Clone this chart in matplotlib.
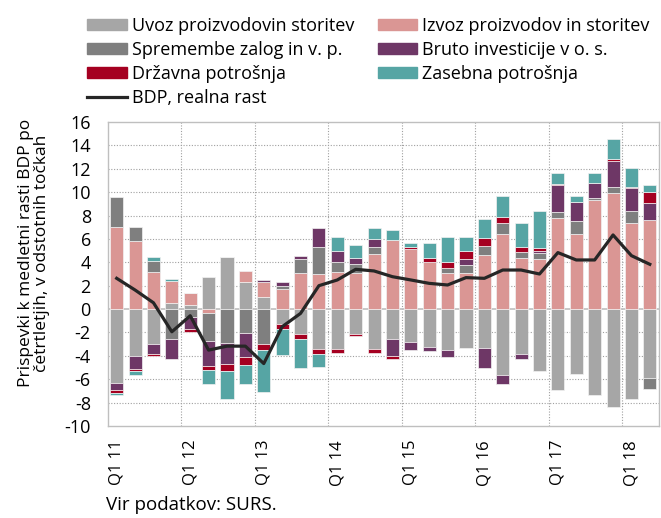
import numpy as np
import matplotlib
matplotlib.use("Agg")
import matplotlib.pyplot as plt
from matplotlib.lines import Line2D
from matplotlib.patches import Patch

plt.rcParams['font.family'] = ["Open Sans", "DejaVu Sans"]

quarters = ["Q1 11", "Q2 11", "Q3 11", "Q4 11", "Q1 12", "Q2 12", "Q3 12", "Q4 12",
            "Q1 13", "Q2 13", "Q3 13", "Q4 13", "Q1 14", "Q2 14", "Q3 14", "Q4 14",
            "Q1 15", "Q2 15", "Q3 15", "Q4 15", "Q1 16", "Q2 16", "Q3 16", "Q4 16",
            "Q1 17", "Q2 17", "Q3 17", "Q4 17", "Q1 18", "Q2 18"]

uvoz = [-6.31, -4.0, -3.0, 0.49, 0.37, 2.77, 4.49, 2.29,
        1.06, -1.31, -2.09, -3.43, -3.43, -2.09, -3.43, -2.6,
        -2.8, -3.23, -3.51, -3.37, -3.31, -5.66, -3.86, -5.31,
        -6.94, -5.51, -7.31, -8.37, -7.69, -5.89]
izvoz = [7.0, 5.83, 3.2, 1.89, 1.0, -0.31, 0.0, 1.0,
         1.26, 1.71, 3.09, 3.0, 3.2, 3.11, 4.71, 5.91,
         5.11, 4.0, 3.09, 3.09, 4.63, 6.4, 4.4, 4.29,
         7.83, 6.4, 9.34, 9.91, 7.34, 7.63]
zaloge = [2.57, 1.23, 0.94, -2.6, -0.71, -2.4, -2.94, -2.03,
          -3.0, 0.29, 1.2, 2.29, 0.86, 0.74, 0.57, 0.0,
          0.0, 0.0, 0.4, 0.69, 0.77, 0.94, 0.46, 0.54,
          0.46, 1.14, 0.17, 0.49, 1.06, -0.91]
investicije = [-0.63, -1.09, -0.8, -1.63, -1.0, -2.17, -1.77, -2.06,
               0.14, 0.34, 0.29, 1.63, 0.91, 0.54, 0.71, -1.4,
               -0.71, -0.34, -0.57, 0.51, -1.69, -0.71, -0.37, 0.17,
               2.31, 1.66, 1.26, 2.23, 1.94, 1.43]
drzavna = [-0.23, -0.23, -0.2, 0.0, -0.29, -0.29, -0.6, -0.71,
           -0.51, -0.4, -0.43, -0.37, -0.29, -0.23, -0.29, -0.23,
           0.23, 0.34, 0.57, 0.71, 0.71, 0.51, 0.49, 0.26,
           0.09, 0.0, 0.0, 0.2, 0.14, 0.94]
zasebna = [-0.14, -0.29, 0.34, 0.2, 0.0, -1.2, -2.37, -1.57,
           -3.57, -2.23, -2.49, -1.14, 1.23, 1.09, 0.91, 0.86,
           0.34, 1.34, 2.14, 1.2, 1.57, 1.83, 2.0, 3.14,
           0.94, 0.49, 0.86, 1.74, 1.57, 0.57]
bdp = [2.63, 1.63, 0.54, -1.94, -0.57, -3.51, -3.17, -3.17,
       -4.66, -1.51, -0.37, 2.0, 2.49, 3.4, 3.26, 2.77,
       2.49, 2.2, 2.06, 2.69, 2.63, 3.34, 3.34, 3.0,
       4.83, 4.2, 4.2, 6.34, 4.57, 3.83]

series = [
    ("Uvoz proizvodovin storitev", uvoz, "#A6A6A6"),
    ("Izvoz proizvodov in storitev", izvoz, "#DA9694"),
    ("Spremembe zalog in v. p.", zaloge, "#7F7F7F"),
    ("Bruto investicije v o. s.", investicije, "#6E3766"),
    ("Državna potrošnja", drzavna, "#A50021"),
    ("Zasebna potrošnja", zasebna, "#56A5A4"),
]

W, H = 661, 518
fig = plt.figure(figsize=(W / 100, H / 100), dpi=100)
ax = fig.add_axes([107.5 / W, 1 - 426 / H, (659 - 107.5) / W, (426 - 122) / H])

x = np.arange(len(quarters))
pos_base = np.zeros(len(x))
neg_base = np.zeros(len(x))
for name, vals, col in series:
    v = np.array(vals)
    bottoms = np.where(v >= 0, pos_base, neg_base)
    ax.bar(x, v, 0.71, bottom=bottoms, color=col, edgecolor="#F2F2F2",
           linewidth=0.5, zorder=3)
    pos_base += np.where(v >= 0, v, 0)
    neg_base += np.where(v < 0, v, 0)

ax.plot(x, bdp, color="#262626", lw=2.3, zorder=4)

ax.set_xlim(-0.5, len(x) - 0.5)
ax.set_ylim(-10, 16)
ax.set_yticks(np.arange(-10, 17, 2))
ax.set_yticklabels([str(t) for t in range(-10, 17, 2)], fontsize=13)
ax.set_xticks(x[::4])
ax.set_xticklabels(quarters[::4], rotation=90, fontsize=12)
ax.tick_params(axis="y", length=0, pad=12)
ax.tick_params(axis="x", length=0, pad=10)

for yv in range(-8, 16, 2):
    if yv != 0:
        ax.axhline(yv, color="#A0A0A0", lw=0.8, ls=(0, (1, 1.5)), zorder=1)
for xv in np.arange(3.5, len(x) - 1, 4):
    ax.axvline(xv, color="#A0A0A0", lw=0.8, ls=(0, (1, 1.5)), zorder=1)
ax.axhline(0, color="#BFBFBF", lw=1.2, zorder=2)

for s in ax.spines.values():
    s.set_color("#BFBFBF")
    s.set_linewidth(1.0)

fig.text(34 / W, 1 - 253 / H,
         "Prispevki k medletni rasti BDP po\nčetrtletjih, v odstotnih točkah",
         fontsize=12.5, rotation=90, ha="center", va="center",
         multialignment="center", linespacing=1.05)

handles = [Patch(color=series[0][2]), Patch(color=series[2][2]),
           Patch(color=series[4][2]), Line2D([], [], color="#262626", lw=2.3),
           Patch(color=series[1][2]), Patch(color=series[3][2]),
           Patch(color=series[5][2])]
labels = [series[0][0], series[2][0], series[4][0], "BDP, realna rast",
          series[1][0], series[3][0], series[5][0]]
fig.legend(handles, labels, ncol=2, loc="upper left",
           bbox_to_anchor=(87 / W, 1 - 17 / H), frameon=False, fontsize=13,
           handlelength=2.2, handleheight=0.6, handletextpad=0.28,
           columnspacing=1.3, labelspacing=0.33, borderpad=0, borderaxespad=0)

fig.text(106 / W, 1 - 510 / H, "Vir podatkov: SURS.", fontsize=13.5)

fig.savefig("out.png", dpi=100)
